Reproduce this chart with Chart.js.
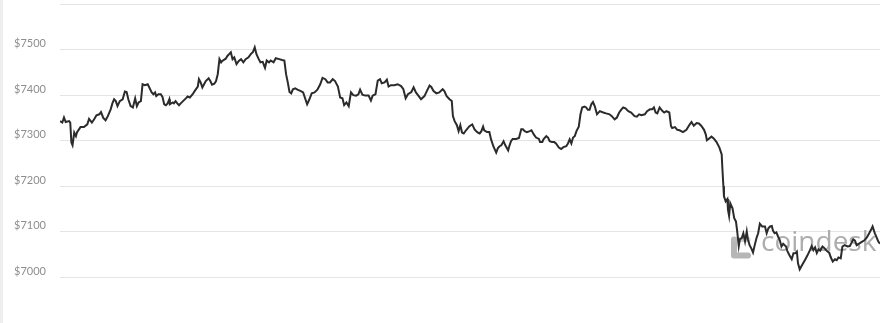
<!DOCTYPE html>
<html>
<head>
<meta charset="utf-8">
<script src="https://cdn.jsdelivr.net/npm/chart.js@4"></script>
<style>
  html, body { margin: 0; padding: 0; background: #ffffff; }
  #wrap { width: 890px; height: 323px; position: relative; }
</style>
</head>
<body>
<div id="wrap"><canvas id="c" width="890" height="323"></canvas></div>
<script>
// Time of each reading, minutes since the start of the 24h window
const minutes = [0,4,7,10,16,18,20,22,25,28,30,36,42,48,51,56,60,64,69,72,76,80,84,89,92,95,98,101,105,110,114,117,120,124,128,132,135,138,142,145,149,154,156,161,164,167,169,173,177,180,183,186,189,192,193,198,200,203,206,209,212,216,221,224,228,233,237,242,244,247,250,253,256,261,264,267,271,274,277,280,283,285,291,294,297,300,303,306,310,314,318,322,326,331,335,339,342,345,349,352,356,360,363,367,370,375,379,385,390,394,397,400,403,406,409,413,417,
423,427,431,434,438,442,447,452,457,461,466,470,474,479,483,488,492,496,499,503,507,511,515,520,524,527,531,536,542,546,549,554,558,562,565,570,574,577,581,587,593,599,603,607,611,617,621,625,630,634,640,645,649,652,656,661,666,672,675,679,684,688,690,693,697,700,703,706,709,713,719,724,728,731,734,737,740,743,745,750,754,757,761,766,769,772,775,779,782,787,789,792,795,801,806,810,813,816,820,825,828,832,836,841,843,847,849,854,857,860,864,868,871,876,880,884,889,892,895,898,901,904,907,911,914,917,921,924,927,
930,933,936,939,943,948,954,959,965,969,974,978,982,986,989,993,998,1003,1009,1013,1017,1021,1027,1031,1036,1040,1043,1046,1049,1053,1058,1061,1065,1070,1073,1075,1080,1084,1088,1094,1100,1106,1109,1113,1118,1122,1126,1131,1134,1136,1140,1144,1148,1153,1158,1162,1163,1165,1166,1169,1172,1173,1175,1177,1181,1184,1187,1189,1192,1194,1197,1200,1203,1206,1208,1211,1214,1217,1220,1223,1226,1229,1233,1238,1241,1244,1247,1250,1252,1255,1258,1261,1264,1267,1270,1275,1277,1281,1285,1288,1291,1294,1296,1299,1303,1308,1312,1317,1320,1323,1326,1329,1332,1335,1339,1342,1346,1351,1353,1357,1361,1364,1367,1371,1374,1378,1383,1387,1390,1393,1396,1399,1404,1408,1412,1417,1421,1424,1427,1431,1434,1437,1440];

// BTC price (USD) at each reading
const prices = [7343,7340,7351,7341,7343,7340,7296,7290,7318,7310,7319,7330,7330,7336,7348,7340,7347,7356,7358,7363,7350,7345,7354,7369,7382,7391,7387,7376,7387,7391,7408,7407,7391,7376,7373,7393,7376,7384,7387,7424,7422,7424,7419,7406,7402,7406,7398,7402,7402,7396,7380,7378,7382,7391,7380,7384,7382,7387,7382,7378,7382,7387,7393,7397,7395,7402,7410,7419,7435,7428,7417,7424,7431,7437,7431,7423,7425,7431,7446,7479,7472,7475,7480,7486,7490,7494,7479,7483,7468,7475,7479,7472,7479,7483,7490,7495,7505,7490,7479,7472,7473,7460,7476,7472,7476,7472,7481,7479,7477,7476,7446,7428,7407,7404,7413,7415,7412,
7409,7406,7391,7380,7391,7404,7406,7412,7424,7438,7435,7428,7428,7435,7431,7419,7395,7393,7378,7384,7376,7406,7400,7399,7402,7412,7401,7399,7399,7388,7399,7402,7432,7435,7426,7428,7434,7419,7422,7422,7424,7420,7413,7393,7402,7407,7417,7406,7398,7391,7398,7411,7421,7418,7409,7404,7406,7413,7409,7398,7391,7387,7354,7343,7334,7321,7334,7318,7316,7323,7332,7336,7325,7321,7318,7316,7321,7331,7323,7319,7319,7303,7288,7274,7284,7288,7290,7299,7290,7279,7288,7299,7304,7304,7306,7325,7325,7321,7319,7321,7323,7314,7307,7304,7297,7297,7303,7310,7307,7299,7297,7297,7294,7285,7282,7286,7288,7294,7303,7294,7307,7310,7321,7331,7358,7373,7375,7373,7368,
7368,7380,7385,7376,7358,7365,7362,7360,7358,7354,7347,7351,7362,7369,7373,7371,7365,7362,7354,7353,7358,7356,7358,7365,7369,7369,7373,7362,7360,7373,7365,7362,7365,7362,7332,7328,7330,7324,7323,7319,7324,7336,7341,7333,7339,7338,7333,7324,7314,7301,7305,7309,7305,7297,7285,7270,7244,7200,7178,7167,7172,7149,7135,7163,7152,7130,7123,7104,7069,7084,7086,7097,7079,7101,7084,7071,7064,7055,7071,7086,7097,7118,7112,7112,7097,7108,7112,7113,7103,7097,7099,7090,7082,7068,7074,7068,7059,7049,7040,7053,7053,7057,7031,7018,7027,7038,7047,7060,7069,7060,7066,7054,7062,7059,7068,7065,7059,7054,7046,7035,7040,7038,7044,7042,7068,7071,7068,7069,7076,7084,7081,7071,7075,7078,7081,7088,7097,7104,7112,7097,7088,7079,7074];

// Y axis tick values and their labels
const yTickValues = [7000, 7100, 7200, 7300, 7400, 7500, 7600];
const yTickLabels = ['$7000', '$7100', '$7200', '$7300', '$7400', '$7500', ''];
const watermarkText = 'coindesk';

const points = minutes.map((m, i) => ({ x: m, y: prices[i] }));

const decor = {
  id: 'decor',
  beforeDraw(chart) {
    const ctx = chart.ctx;
    ctx.save();
    ctx.fillStyle = '#ffffff';
    ctx.fillRect(0, 0, chart.width, chart.height);
    ctx.fillStyle = '#eeeeee';
    ctx.fillRect(0, 0, 3, chart.height);
    ctx.restore();
  },
  beforeDatasetsDraw(chart) {
    const ctx = chart.ctx;
    const ca = chart.chartArea;
    ctx.save();
    // logo mark
    const lx = ca.right - 146, ly = ca.bottom - 38;
    ctx.strokeStyle = 'rgba(178,178,178,0.95)';
    ctx.lineCap = 'round';
    ctx.lineWidth = 6;
    ctx.beginPath();
    ctx.moveTo(lx, ly); ctx.lineTo(lx, ly + 16);
    ctx.moveTo(lx, ly + 16); ctx.lineTo(lx + 14, ly + 16);
    ctx.stroke();
    ctx.strokeStyle = 'rgba(190,190,190,0.7)';
    ctx.lineWidth = 5;
    ctx.beginPath();
    ctx.moveTo(lx, ly); ctx.lineTo(lx + 14, ly);
    ctx.stroke();
    // word mark
    ctx.fillStyle = '#adadad';
    ctx.font = '28px "Open Sans", "Noto Sans", sans-serif';
    ctx.textBaseline = 'alphabetic';
    ctx.textAlign = 'left';
    ctx.fillText(watermarkText, ca.right - 119, ca.bottom - 27, 117);
    ctx.restore();
  }
};

new Chart(document.getElementById('c'), {
  type: 'line',
  data: {
    datasets: [{
      data: points,
      borderColor: '#2b2b2b',
      borderWidth: 2,
      pointRadius: 0,
      pointHoverRadius: 0,
      fill: false,
      tension: 0
    }]
  },
  options: {
    responsive: false,
    animation: false,
    events: [],
    layout: { padding: { left: 0, right: 10, top: 4, bottom: 45.5 } },
    plugins: { legend: { display: false }, tooltip: { enabled: false } },
    scales: {
      x: {
        type: 'linear',
        display: false,
        min: 0,
        max: 1440
      },
      y: {
        min: 7000,
        max: 7600,
        afterBuildTicks(axis) {
          axis.ticks = yTickValues.map(v => ({ value: v }));
        },
        afterFit(axis) {
          axis.width = 60;
          axis.paddingTop = 0;
          axis.paddingBottom = 0;
        },
        border: { display: false },
        grid: { color: '#e4e4e4', lineWidth: 1, drawTicks: false },
        ticks: {
          padding: 14,
          labelOffset: -6,
          color: '#8e8e8e',
          font: { family: 'Lato, "Open Sans", sans-serif', size: 11 },
          callback(value) {
            const i = yTickValues.indexOf(value);
            return i >= 0 ? yTickLabels[i] : '';
          }
        }
      }
    }
  },
  plugins: [decor]
});
</script>
</body>
</html>
